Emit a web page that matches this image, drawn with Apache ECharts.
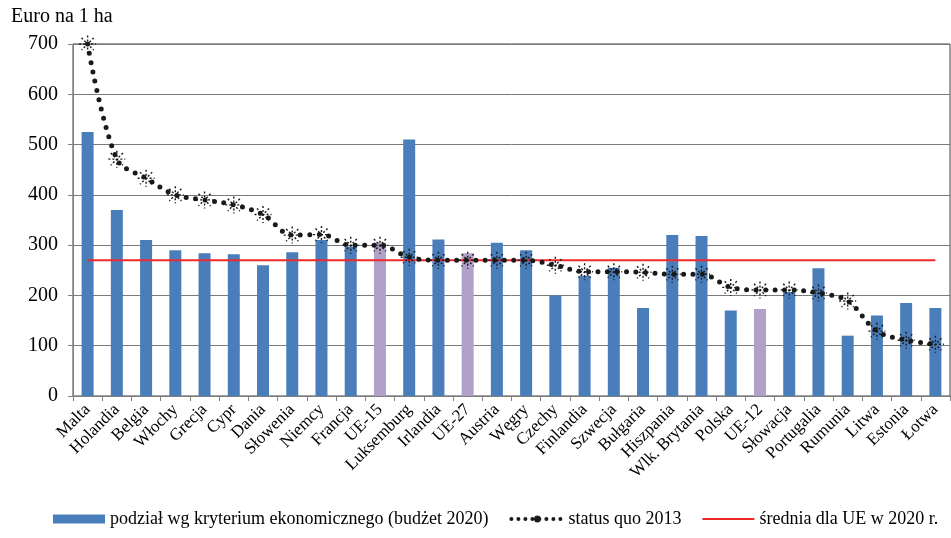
<!DOCTYPE html>
<html>
<head>
<meta charset="utf-8">
<script src="https://cdn.jsdelivr.net/npm/echarts@6/dist/echarts.min.js"></script>
<style>
html, body { margin: 0; padding: 0; background: #fff; }
#chart { width: 951px; height: 538px; }
</style>
</head>
<body>
<div id="chart"></div>
<script>
'use strict';
var kraje = ['Malta', 'Holandia', 'Belgia', 'Włochy', 'Grecja', 'Cypr', 'Dania', 'Słowenia', 'Niemcy', 'Francja',
	'UE-15', 'Luksemburg', 'Irlandia', 'UE-27', 'Austria', 'Węgry', 'Czechy', 'Finlandia', 'Szwecja', 'Bułgaria',
	'Hiszpania', 'Wlk. Brytania', 'Polska', 'UE-12', 'Słowacja', 'Portugalia', 'Rumunia', 'Litwa', 'Estonia', 'Łotwa'];
// podział wg kryterium ekonomicznego (budżet 2020)
var budzet2020 = [525, 370, 310, 290, 284, 282, 260, 286, 310, 297,
	305, 510, 311, 284, 305, 290, 200, 239, 255, 175,
	320, 318, 170, 173, 207, 254, 120, 160, 185, 175];
// status quo 2013
var statusQuo = [700, 471, 433, 400, 390, 380, 361, 320, 321, 300,
	300, 276, 270, 270, 270, 270, 260, 247, 247, 246,
	242, 242, 216, 211, 211, 205, 189, 129, 111, 103];
// średnia dla UE w 2020 r.
var srednia = [];
for (var i = 0; i < kraje.length; i++) srednia.push(270);
var grupyUE = ['UE-15', 'UE-27', 'UE-12'];
var yTicks = [0, 100, 200, 300, 400, 500, 600, 700];

var font = 'Liberation Serif';
var niebieski = '#4a7ebb';
var czerwony = '#ee2a2a';
var gwiazdka = 'path://M8,0L8,16M0,8L16,8M2.3,2.3L13.7,13.7M13.7,2.3L2.3,13.7';
// cienka kreska w legendzie (narożniki wyznaczają wymiary ikony)
var kreska = 'path://M0,0L0.01,0L0,0.01ZM0,3.6L52,3.6L52,5.4L0,5.4ZM52,9L51.99,9L52,8.99Z';

var myChart = echarts.init(document.getElementById('chart'));
var option = {
	animation: false,
	title: {
		text: 'Euro na 1 ha',
		left: 6,
		top: 2,
		textStyle: {fontFamily: font, fontSize: 20, fontWeight: 'normal', color: '#000'}
	},
	grid: {
		left: 73, right: 1, top: 44, bottom: 142,
		show: true, borderColor: '#404040', borderWidth: 1
	},
	legend: {
		bottom: 5,
		left: 48,
		itemWidth: 52,
		itemHeight: 9,
		itemGap: 21,
		textStyle: {fontFamily: font, fontSize: 18, color: '#000'},
		data: [
			{name: 'podział wg kryterium ekonomicznego (budżet 2020)', icon: 'rect', itemStyle: {color: niebieski}},
			{name: 'status quo 2013', lineStyle: {width: 4, type: [0, 7], cap: 'round', color: '#1a1a1a'}},
			{name: 'średnia dla UE w 2020 r.', icon: kreska, itemStyle: {color: czerwony}}
		]
	},
	xAxis: {
		type: 'category',
		data: kraje,
		boundaryGap: true,
		axisLine: {lineStyle: {color: '#7f7f7f', width: 1}},
		axisTick: {show: true, length: 5, lineStyle: {color: '#7f7f7f'}},
		axisLabel: {
			interval: 0, rotate: 45, margin: 11,
			fontFamily: font, fontSize: 17, color: '#000'
		}
	},
	yAxis: {
		type: 'value',
		min: 0, max: 700, interval: 100,
		axisLine: {show: true, lineStyle: {color: '#7f7f7f'}},
		axisTick: {show: true, length: 5, lineStyle: {color: '#7f7f7f'}},
		splitLine: {lineStyle: {color: '#7a7a7a', width: 1}},
		axisLabel: {
			margin: 15, fontFamily: font, fontSize: 20, color: '#000',
			formatter: function (v) { return yTicks.indexOf(v) >= 0 ? String(v) : ''; }
		}
	},
	series: [
		{
			name: 'podział wg kryterium ekonomicznego (budżet 2020)',
			type: 'bar',
			barWidth: 12,
			data: budzet2020,
			itemStyle: {
				color: function (p) {
					return grupyUE.indexOf(kraje[p.dataIndex]) >= 0 ? '#b1a0c7' : niebieski;
				}
			},
			z: 2
		},
		{
			name: 'średnia dla UE w 2020 r.',
			type: 'line',
			data: srednia,
			symbol: 'none',
			itemStyle: {color: czerwony},
			lineStyle: {color: czerwony, width: 2},
			z: 3
		},
		{
			name: 'status quo 2013',
			type: 'line',
			data: statusQuo,
			smooth: 0.35,
			symbol: gwiazdka,
			symbolSize: 17,
			itemStyle: {color: 'transparent', borderColor: '#1a1a1a', borderWidth: 1.4, borderType: [2, 2]},
			lineStyle: {color: '#1a1a1a', width: 5, type: [0, 9.5], cap: 'round'},
			z: 4
		}
	]
};
myChart.setOption(option);
</script>
</body>
</html>
